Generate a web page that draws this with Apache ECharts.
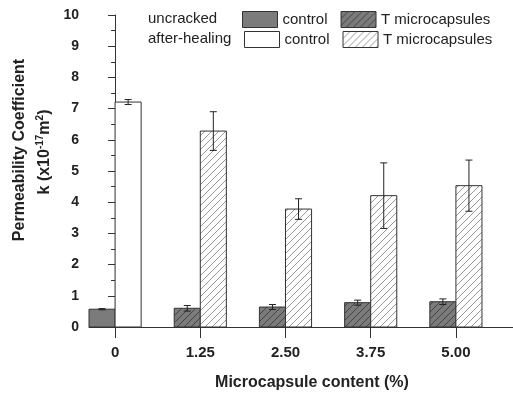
<!DOCTYPE html>
<html>
<head>
<meta charset="utf-8">
<script src="https://cdn.jsdelivr.net/npm/echarts@6/dist/echarts.min.js"></script>
<style>
  html, body { margin: 0; padding: 0; background: #fff; }
  #chart { width: 513px; height: 396px; }
</style>
</head>
<body>
<div id="chart"></div>
<script>
// microcapsule content, one slot per group
const categories = ['0', '1.25', '2.50', '3.75', '5.00'];
const slots = [0, 1, 2, 3, 4];
// permeability k (x10^-17 m^2), mean and error
const uncrackedMean = [0.57, 0.60, 0.64, 0.78, 0.81];
const uncrackedErr = [0.02, 0.09, 0.08, 0.08, 0.09];
const healedMean = [7.21, 6.28, 3.78, 4.21, 4.53];
const healedErr = [0.08, 0.62, 0.33, 1.05, 0.82];
const yTicks = [0, 1, 2, 3, 4, 5, 6, 7, 8, 9, 10];

const FONT = '"Liberation Sans", Arial, sans-serif';
const barW = 0.306; // bar width in slot units
const edge = '#333';

function hatch (bg, line) {
    const c = document.createElement('canvas');
    c.width = c.height = 7;
    const g = c.getContext('2d');
    g.fillStyle = bg;
    g.fillRect(0, 0, 7, 7);
    g.strokeStyle = line;
    g.lineWidth = 1;
    g.beginPath();
    g.moveTo(0, 7); g.lineTo(7, 0);
    g.moveTo(-1, 1); g.lineTo(1, -1);
    g.moveTo(6, 8); g.lineTo(8, 6);
    g.stroke();
    return { image: c, repeat: 'repeat' };
}

const styles = {
    uc: { fill: '#7b7b7b', stroke: edge, lineWidth: 1 },
    ut: { fill: hatch('#7b7b7b', '#444'), stroke: edge, lineWidth: 1 },
    hc: { fill: '#ffffff', stroke: edge, lineWidth: 1 },
    ht: { fill: hatch('#ffffff', '#999'), stroke: edge, lineWidth: 1 },
};

const pick = (arr, idx) => idx.map(i => [slots[i], arr[i]]);
const pickErr = (m, e, idx) => idx.map(i => [slots[i], m[i], e[i]]);

function barItem (side, style) {
    return function (params, api) {
        const x = api.value(0);
        const top = api.coord([x, api.value(1)]);
        const base = api.coord([x, 0]);
        const w = api.size([barW, 0])[0];
        const x0 = side < 0 ? base[0] - w : base[0];
        return {
            type: 'rect',
            shape: { x: x0, y: top[1], width: w, height: base[1] - top[1] },
            style: style,
        };
    };
}

function errItem (side) {
    return function (params, api) {
        const x = api.value(0), m = api.value(1), e = api.value(2);
        const w = api.size([barW, 0])[0];
        const hi = api.coord([x, m + e]);
        const lo = api.coord([x, m - e]);
        const cx = hi[0] + side * w / 2;
        const cap = 3.5;
        const st = { stroke: '#222', lineWidth: 1 };
        return {
            type: 'group',
            children: [
                { type: 'line', shape: { x1: cx, y1: hi[1], x2: cx, y2: lo[1] }, style: st },
                { type: 'line', shape: { x1: cx - cap, y1: hi[1], x2: cx + cap, y2: hi[1] }, style: st },
                { type: 'line', shape: { x1: cx - cap, y1: lo[1], x2: cx + cap, y2: lo[1] }, style: st },
            ],
        };
    };
}

function barSeries (name, side, style, data) {
    return {
        name: name,
        type: 'custom',
        renderItem: barItem(side, style),
        itemStyle: { color: style.fill, borderColor: edge, borderWidth: 1 },
        data: data,
        z: 2,
    };
}

const legendNames = {
    'uncracked control': 'control',
    'uncracked T': 'T microcapsules',
    'healed control': 'control',
    'healed T': 'T microcapsules',
};

function legendRow (left, top, a, sa, b, sb) {
    return {
        left: left,
        top: top,
        itemWidth: 35,
        itemHeight: 16,
        itemGap: 13,
        selectedMode: false,
        padding: 0,
        formatter: n => legendNames[n],
        textStyle: { fontFamily: FONT, fontSize: 15, color: '#222' },
        data: [
            { name: a, icon: 'rect', itemStyle: { color: sa.fill, borderColor: edge, borderWidth: 1 } },
            { name: b, icon: 'rect', itemStyle: { color: sb.fill, borderColor: edge, borderWidth: 1 } },
        ],
    };
}

const nameTok = { fontSize: 16, fontWeight: 'bold', fontFamily: FONT, fill: '#222', lineHeight: 20 };
const supTok = { fontSize: 10, fontWeight: 'bold', fontFamily: FONT, fill: '#222', verticalAlign: 'top', lineHeight: 20 };

const chart = echarts.init(document.getElementById('chart'));
chart.setOption({
    animation: false,
    grid: { left: 89, right: 0, top: 15, bottom: 69 },
    legend: [
        legendRow(242, 11, 'uncracked control', styles.uc, 'uncracked T', styles.ut),
        legendRow(244, 31, 'healed control', styles.hc, 'healed T', styles.ht),
    ],
    xAxis: {
        type: 'value',
        min: -0.306,
        max: 4.67,
        splitLine: { show: false },
        axisLine: { show: true, lineStyle: { color: edge, width: 1 } },
        axisTick: { show: true, customValues: slots, length: 11, lineStyle: { color: edge } },
        axisLabel: {
            customValues: slots,
            formatter: v => categories[Math.round(v)],
            margin: 18,
            fontFamily: FONT,
            fontWeight: 'bold',
            fontSize: 15,
            color: '#222',
        },
    },
    yAxis: {
        type: 'value',
        min: 0,
        max: 10,
        interval: 1,
        splitLine: { show: false },
        axisLine: { show: true, lineStyle: { color: edge, width: 1 } },
        axisTick: { show: true, length: 7, lineStyle: { color: edge } },
        minorTick: { show: true, splitNumber: 2, length: 4, lineStyle: { color: edge } },
        axisLabel: {
            customValues: yTicks,
            margin: 10,
            fontFamily: FONT,
            fontWeight: 'bold',
            fontSize: 14,
            color: '#222',
        },
    },
    graphic: [
        { type: 'text', left: 148, top: 11, style: { text: 'uncracked', font: '15px ' + FONT, fill: '#222' } },
        { type: 'text', left: 148, top: 31, style: { text: 'after-healing', font: '15px ' + FONT, fill: '#222' } },
        {
            type: 'text', x: 20, y: 150, rotation: Math.PI / 2,
            style: {
                text: '{b|Permeability Coefficient}',
                align: 'center',
                verticalAlign: 'middle',
                rich: { b: nameTok },
            },
        },
        {
            type: 'text', x: 45, y: 152, rotation: Math.PI / 2,
            style: {
                text: '{b|k (x10}{sup|-17}{b|m}{sup|2}{b|)}',
                align: 'center',
                verticalAlign: 'middle',
                rich: { b: nameTok, sup: supTok },
            },
        },
        {
            type: 'text', x: 312, y: 383,
            style: { text: 'Microcapsule content (%)', font: 'bold 16px ' + FONT, fill: '#222', align: 'center', verticalAlign: 'middle' },
        },
    ],
    series: [
        barSeries('uncracked control', -1, styles.uc, pick(uncrackedMean, [0])),
        barSeries('uncracked T', -1, styles.ut, pick(uncrackedMean, [1, 2, 3, 4])),
        barSeries('healed control', 1, styles.hc, pick(healedMean, [0])),
        barSeries('healed T', 1, styles.ht, pick(healedMean, [1, 2, 3, 4])),
        {
            type: 'custom',
            renderItem: errItem(-1),
            data: pickErr(uncrackedMean, uncrackedErr, slots),
            z: 3,
        },
        {
            type: 'custom',
            renderItem: errItem(1),
            data: pickErr(healedMean, healedErr, slots),
            z: 3,
        },
    ],
});
</script>
</body>
</html>
